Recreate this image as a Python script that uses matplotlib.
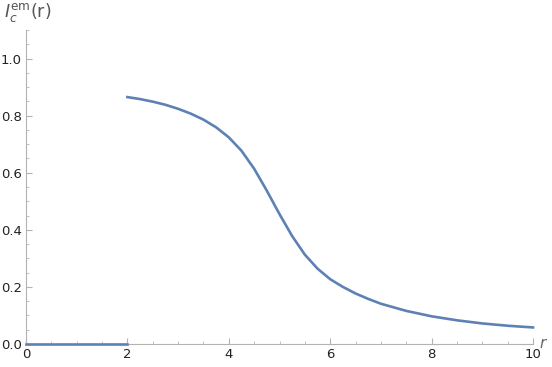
import numpy as np
import matplotlib.pyplot as plt
from matplotlib.ticker import MultipleLocator

# values
r_zero = [0.0, 2.0]
ic_zero = [0.0, 0.0]

r = [2.0, 2.25, 2.5, 2.75, 3.0, 3.25, 3.5, 3.75, 4.0, 4.25, 4.5, 4.75,
     5.0, 5.25, 5.5, 5.75, 6.0, 6.25, 6.5, 6.75, 7.0, 7.5, 8.0, 8.5, 9.0,
     9.5, 10.0]
ic = [0.865, 0.858, 0.849, 0.838, 0.824, 0.807, 0.786, 0.759, 0.724, 0.677,
      0.614, 0.537, 0.455, 0.378, 0.313, 0.264, 0.227, 0.200, 0.177, 0.158,
      0.141, 0.116, 0.097, 0.083, 0.072, 0.064, 0.058]

line_color = '#5E81B5'
axis_color = '#b3b3b3'

fig = plt.figure(figsize=(5.52, 3.67), dpi=100)
ax = fig.add_axes([26/552, 23/367, (533-26)/552, (344-30)/367])

ax.plot(r_zero, ic_zero, color=line_color, linewidth=1.9, clip_on=False, zorder=3)
ax.plot(r, ic, color=line_color, linewidth=1.9, clip_on=False, zorder=3,
        solid_joinstyle='round')

ax.set_xlim(0, 10)
ax.set_ylim(0, 1.1)

ax.xaxis.set_minor_locator(MultipleLocator(0.5))
ax.yaxis.set_minor_locator(MultipleLocator(0.05))
ax.set_xticks([0, 2, 4, 6, 8, 10])
ax.set_xticklabels(['0', '2', '4', '6', '8', '10'])
ax.set_yticks([0.0, 0.2, 0.4, 0.6, 0.8, 1.0])
ax.set_yticklabels(['0.0', '0.2', '0.4', '0.6', '0.8', '1.0'])

for side in ['top', 'right']:
    ax.spines[side].set_visible(False)
for side in ['left', 'bottom']:
    ax.spines[side].set_color(axis_color)
    ax.spines[side].set_linewidth(0.8)

ax.tick_params(which='major', direction='in', length=4, width=0.8,
               color=axis_color, labelsize=9.5, labelcolor='#222222', pad=3)
ax.tick_params(which='minor', direction='in', length=2.2, width=0.6,
               color=axis_color)

ax.text(1.012, 0.0, 'r', transform=ax.transAxes, fontsize=11, style='italic',
        color='#666666', ha='left', va='center')
fig.text(4/552, 1 - 13/367, r'$I_c^{\mathrm{em}}\mathrm{(r)}$', fontsize=12.5,
         color='#555555', ha='left', va='center')

plt.savefig('out.png', dpi=100)
